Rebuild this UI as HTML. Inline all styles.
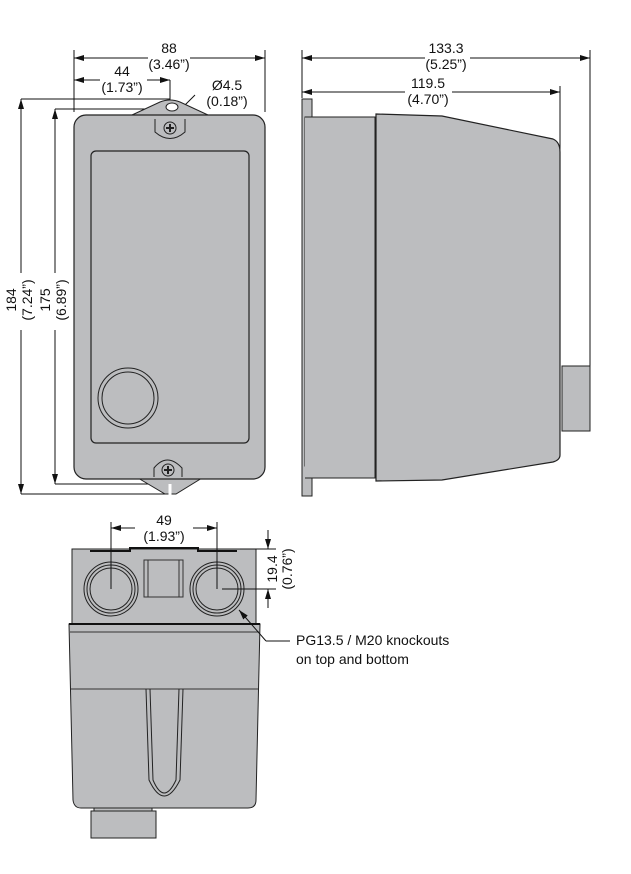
<!DOCTYPE html>
<html><head><meta charset="utf-8"><style>
html,body{margin:0;padding:0;background:#fff;}
svg{display:block;}
text{font-family:"Liberation Sans",sans-serif;font-size:14px;fill:#111;}
</style></head><body>
<svg width="631" height="874" viewBox="0 0 631 874" xmlns="http://www.w3.org/2000/svg">
<defs>
<marker id="a" viewBox="0 0 10 6" refX="10" refY="3" markerWidth="10" markerHeight="6" orient="auto-start-reverse" markerUnits="userSpaceOnUse"><path d="M0,0L10,3L0,6z" fill="#111"/></marker>
</defs>
<g stroke="#111" stroke-width="1" fill="none">
<line x1="74" y1="50" x2="74" y2="112"/>
<line x1="265" y1="50" x2="265" y2="112"/>
<line x1="74" y1="58" x2="148" y2="58" marker-start="url(#a)"/>
<line x1="190" y1="58" x2="265" y2="58" marker-end="url(#a)"/>
<line x1="74" y1="80" x2="100" y2="80" marker-start="url(#a)"/>
<line x1="147" y1="80" x2="170" y2="80" marker-end="url(#a)"/>
<line x1="170" y1="80" x2="170" y2="100"/>
<line x1="21" y1="99" x2="170" y2="99"/>
<line x1="55" y1="109" x2="160" y2="109"/>
<line x1="21" y1="99" x2="21" y2="273" marker-start="url(#a)"/>
<line x1="21" y1="330" x2="21" y2="494" marker-end="url(#a)"/>
<line x1="55" y1="109" x2="55" y2="273" marker-start="url(#a)"/>
<line x1="55" y1="330" x2="55" y2="484" marker-end="url(#a)"/>
<line x1="21" y1="494" x2="165" y2="494"/>
<line x1="55" y1="484" x2="160" y2="484"/>
<line x1="178" y1="112" x2="195" y2="95"/>
</g>
<path d="M132,115 L160,102 Q170,98 180,102 L208,115 Z" fill="#bcbdbf" stroke="#222"/>
<path d="M138,478 L165,494 L176,494 L202,478 Z" fill="#bcbdbf" stroke="#222"/>
<line x1="170" y1="484" x2="170" y2="496" stroke="#fff" stroke-width="3"/>
<rect x="74" y="115" width="191" height="364" rx="12" fill="#bcbdbf" stroke="#222" stroke-width="1.2"/>
<ellipse cx="172" cy="107" rx="6" ry="4" fill="#fff" stroke="#222"/>
<rect x="91" y="151" width="158" height="292" rx="5" fill="#bcbdbf" stroke="#222" stroke-width="1.2"/>
<circle cx="128" cy="398" r="30" fill="none" stroke="#222"/>
<circle cx="128" cy="398" r="26" fill="none" stroke="#222"/>
<g fill="none" stroke="#222">
<path d="M155,119 L155,132 Q170,145 185,132 L185,119"/>
<circle cx="170" cy="128" r="6"/>
<path d="M166,128h8M170,124v8" stroke-width="2"/>
<path d="M154,477 L154,468 Q167,452 182,468 L182,477"/>
<circle cx="168" cy="470" r="6"/>
<path d="M164,470h8M168,466v8" stroke-width="2"/>
</g>
<text x="169" y="53" text-anchor="middle">88</text>
<text x="169" y="69" text-anchor="middle">(3.46”)</text>
<text x="122" y="76" text-anchor="middle">44</text>
<text x="122" y="92" text-anchor="middle">(1.73”)</text>
<text x="227" y="90" text-anchor="middle">Ø4.5</text>
<text x="227" y="106" text-anchor="middle">(0.18”)</text>
<text transform="translate(16,300) rotate(-90)" text-anchor="middle">184</text>
<text transform="translate(32,300) rotate(-90)" text-anchor="middle">(7.24”)</text>
<text transform="translate(50,300) rotate(-90)" text-anchor="middle">175</text>
<text transform="translate(66,300) rotate(-90)" text-anchor="middle">(6.89”)</text>
<g stroke="#111" fill="none">
<line x1="302" y1="50" x2="302" y2="98"/>
<line x1="590" y1="50" x2="590" y2="366"/>
<line x1="560" y1="86" x2="560" y2="150"/>
<line x1="302" y1="58" x2="425" y2="58" marker-start="url(#a)"/>
<line x1="470" y1="58" x2="590" y2="58" marker-end="url(#a)"/>
<line x1="302" y1="92" x2="405" y2="92" marker-start="url(#a)"/>
<line x1="452" y1="92" x2="560" y2="92" marker-end="url(#a)"/>
</g>
<text x="446" y="53" text-anchor="middle">133.3</text>
<text x="446" y="69" text-anchor="middle">(5.25”)</text>
<text x="428" y="88" text-anchor="middle">119.5</text>
<text x="428" y="104" text-anchor="middle">(4.70”)</text>
<path d="M302,99 H312 V117 H305 V466 H312 V496 H302 Z" fill="#bcbdbf" stroke="#222"/>
<path d="M305,117 H375 V478 H305" fill="#bcbdbf" stroke="#222"/>
<path d="M376,114 L442,116 L553,139 Q560,142 560,152 L560,455 Q560,460 553,462 L442,480 L376,481 Z" fill="#bcbdbf" stroke="#222" stroke-width="1.2"/>
<rect x="562" y="366" width="28" height="65" fill="#bcbdbf" stroke="#222"/>
<rect x="72" y="549" width="184" height="75" fill="#bcbdbf" stroke="#222"/>
<path d="M90,551 H130 V548 H198 V551 H237" fill="none" stroke="#111" stroke-width="2"/>
<rect x="144" y="560" width="39" height="37" fill="none" stroke="#333"/>
<line x1="148" y1="560" x2="148" y2="597" stroke="#333"/>
<line x1="179" y1="560" x2="179" y2="597" stroke="#333"/>
<g fill="none" stroke="#222">
<circle cx="111" cy="589" r="27"/><circle cx="111" cy="589" r="24"/><circle cx="111" cy="589" r="21"/>
<circle cx="217" cy="589" r="27"/><circle cx="217" cy="589" r="24"/><circle cx="217" cy="589" r="21"/>
</g>
<path d="M69,624 H260 L256,800 Q256,808 248,808 H81 Q74,808 73,800 Z" fill="#bcbdbf" stroke="#222"/>
<line x1="69" y1="624" x2="260" y2="624" stroke="#111" stroke-width="2"/>
<line x1="70" y1="632" x2="259" y2="632" stroke="#333"/>
<line x1="71" y1="689" x2="258" y2="689" stroke="#333"/>
<path d="M146,689 L149,780 Q164,812 180,780 L183,689" fill="none" stroke="#222"/>
<path d="M150,689 L153,780 Q164,806 176,780 L179,689" fill="none" stroke="#222"/>
<rect x="94" y="808" width="58" height="4" fill="#bcbdbf" stroke="#222"/>
<rect x="91" y="811" width="65" height="27" fill="#bcbdbf" stroke="#222"/>
<g stroke="#111" fill="none">
<line x1="111" y1="522" x2="111" y2="589"/>
<line x1="217" y1="522" x2="217" y2="589"/>
<line x1="111" y1="528" x2="135" y2="528" marker-start="url(#a)"/>
<line x1="193" y1="528" x2="217" y2="528" marker-end="url(#a)"/>
<line x1="240" y1="549" x2="276" y2="549"/>
<line x1="222" y1="589" x2="276" y2="589"/>
<line x1="268" y1="530" x2="268" y2="549" marker-end="url(#a)"/>
<line x1="268" y1="608" x2="268" y2="589" marker-end="url(#a)"/>
<line x1="266" y1="641" x2="239" y2="610" marker-end="url(#a)"/>
<line x1="266" y1="641" x2="290" y2="641"/>
</g>
<text x="164" y="525" text-anchor="middle">49</text>
<text x="164" y="541" text-anchor="middle">(1.93”)</text>
<text transform="translate(277,569) rotate(-90)" text-anchor="middle">19.4</text>
<text transform="translate(292,569) rotate(-90)" text-anchor="middle">(0.76”)</text>
<text x="296" y="645">PG13.5 / M20 knockouts</text>
<text x="296" y="664">on top and bottom</text>
</svg>
</body></html>
